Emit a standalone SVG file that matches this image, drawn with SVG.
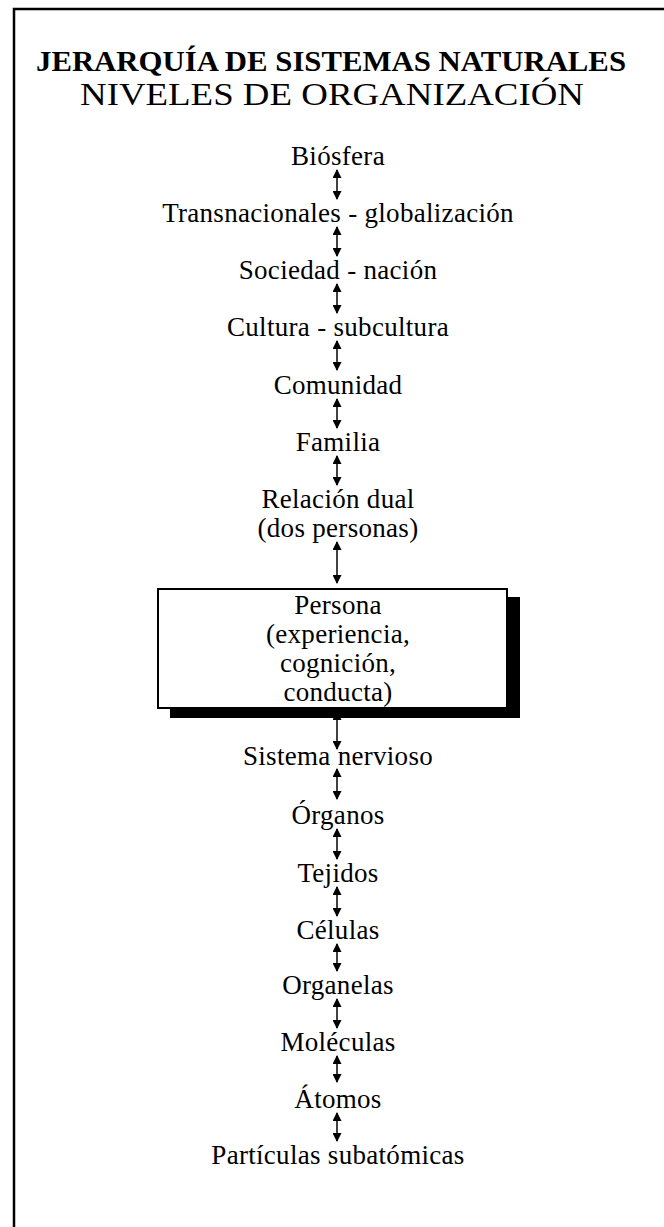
<svg xmlns="http://www.w3.org/2000/svg" width="664" height="1227" viewBox="0 0 664 1227">
<style>
text{font-family:"Liberation Serif","Times New Roman",serif;fill:#000;text-anchor:middle}
.t{font-size:30px;font-weight:bold}
.s{font-size:31px}
.n{font-size:27px;letter-spacing:0.3px}
.c line{stroke:#000;stroke-width:1.5;marker-start:url(#ah);marker-end:url(#ah)}
</style>
<defs>
<marker id="ah" markerWidth="9" markerHeight="9" refX="8" refY="4.5" orient="auto-start-reverse" markerUnits="userSpaceOnUse">
<path d="M0,0 L9,4.5 L0,9 Z" fill="#000"/>
</marker>
</defs>
<rect x="0" y="0" width="664" height="1227" fill="#fff"/>
<rect x="14" y="9" width="670" height="1240" fill="none" stroke="#000" stroke-width="2.5"/>
<g id="title">
<text class="t" x="331" y="71" textLength="590" lengthAdjust="spacingAndGlyphs">JERARQUÍA DE SISTEMAS NATURALES</text>
<text class="s" x="332" y="105" textLength="504" lengthAdjust="spacingAndGlyphs">NIVELES DE ORGANIZACIÓN</text>
</g>
<g id="n1"><text class="n" x="338" y="165">Biósfera</text></g>
<g id="n2"><text class="n" x="338" y="222">Transnacionales - globalización</text></g>
<g id="n3"><text class="n" x="338" y="279">Sociedad - nación</text></g>
<g id="n4"><text class="n" x="338" y="336">Cultura - subcultura</text></g>
<g id="n5"><text class="n" x="338" y="394">Comunidad</text></g>
<g id="n6"><text class="n" x="338" y="451">Familia</text></g>
<g id="n7"><text class="n" x="338" y="508">Relación dual</text><text class="n" x="338" y="537">(dos personas)</text></g>
<g id="n8">
<rect x="170" y="597" width="350" height="121" fill="#000"/>
<rect x="158" y="589" width="349" height="119" fill="#fff" stroke="#000" stroke-width="2"/>
<text class="n" x="338" y="614">Persona</text>
<text class="n" x="338" y="643">(experiencia,</text>
<text class="n" x="338" y="672">cognición,</text>
<text class="n" x="338" y="701">conducta)</text>
</g>
<g id="n9"><text class="n" x="338" y="765">Sistema nervioso</text></g>
<g id="n10"><text class="n" x="338" y="824">Órganos</text></g>
<g id="n11"><text class="n" x="338" y="882">Tejidos</text></g>
<g id="n12"><text class="n" x="338" y="939">Células</text></g>
<g id="n13"><text class="n" x="338" y="994">Organelas</text></g>
<g id="n14"><text class="n" x="338" y="1051">Moléculas</text></g>
<g id="n15"><text class="n" x="338" y="1108">Átomos</text></g>
<g id="n16"><text class="n" x="338" y="1164">Partículas subatómicas</text></g>
<g id="connectors" class="c">
<line x1="337" y1="170" x2="337" y2="199"/>
<line x1="337" y1="227" x2="337" y2="256"/>
<line x1="337" y1="284" x2="337" y2="313"/>
<line x1="337" y1="341" x2="337" y2="370"/>
<line x1="337" y1="399" x2="337" y2="428"/>
<line x1="337" y1="456" x2="337" y2="485"/>
<line x1="337" y1="542" x2="337" y2="583"/>
<line x1="337" y1="712" x2="337" y2="749"/>
<line x1="337" y1="769" x2="337" y2="799"/>
<line x1="337" y1="829" x2="337" y2="859"/>
<line x1="337" y1="887" x2="337" y2="916"/>
<line x1="337" y1="944" x2="337" y2="971"/>
<line x1="337" y1="999" x2="337" y2="1028"/>
<line x1="337" y1="1056" x2="337" y2="1082"/>
<line x1="337" y1="1113" x2="337" y2="1141"/>
</g>
</svg>
